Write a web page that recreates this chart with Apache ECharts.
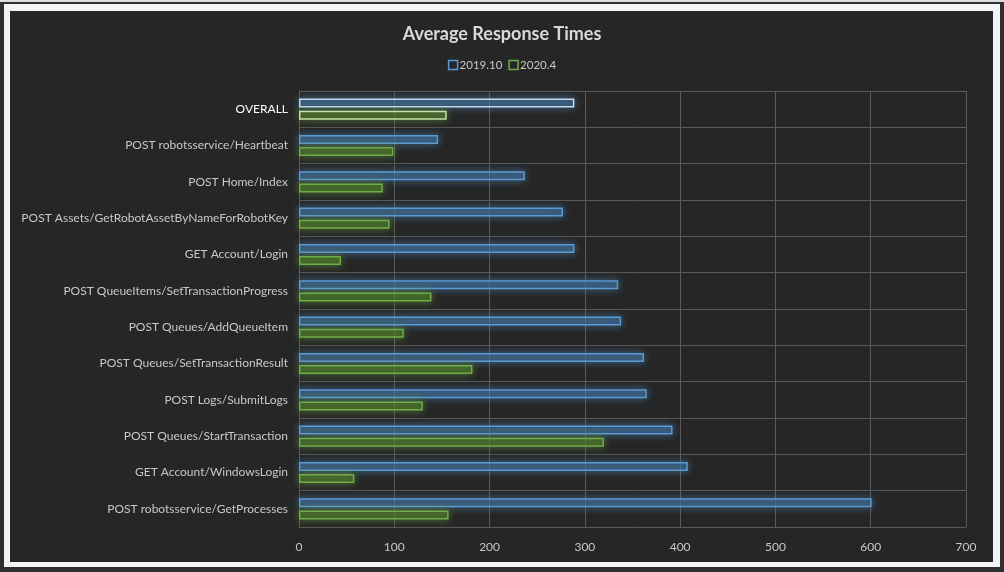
<!DOCTYPE html>
<html>
<head>
<meta charset="utf-8">
<script src="https://cdn.jsdelivr.net/npm/echarts@6/dist/echarts.min.js"></script>
<style>
  html, body { margin: 0; padding: 0; width: 1004px; height: 572px; overflow: hidden; background: #2f2f2f; }
  #topline { position: absolute; left: 0; top: 0; width: 1004px; height: 2px; background: #dcdcdc; }
  #frame { position: absolute; left: 4px; top: 4px; width: 996px; height: 563px; background: #f4f4f4; }
  #inner { position: absolute; left: 10px; top: 11px; width: 983px; height: 551px; background: #262626; }
  #chart { position: absolute; left: 0; top: 0; width: 1004px; height: 572px; }
</style>
</head>
<body>
<div id="topline"></div>
<div id="frame"></div>
<div id="inner"></div>
<div id="chart"></div>
<script>
const categories = [
  'OVERALL',
  'POST robotsservice/Heartbeat',
  'POST Home/Index',
  'POST Assets/GetRobotAssetByNameForRobotKey',
  'GET Account/Login',
  'POST QueueItems/SetTransactionProgress',
  'POST Queues/AddQueueItem',
  'POST Queues/SetTransactionResult',
  'POST Logs/SubmitLogs',
  'POST Queues/StartTransaction',
  'GET Account/WindowsLogin',
  'POST robotsservice/GetProcesses'
];
const seriesNames = ['2019.10', '2020.4'];
const values2019 = [289, 146, 237, 277, 289, 335, 338, 362, 365, 392, 408, 601];
const values2020 = [155, 99, 88, 95, 44, 139, 110, 182, 130, 320, 58, 157];
const xTicks = { min: 0, max: 700, interval: 100 };

const blue = { border: '#5b9bd5', fill: 'rgba(55,95,135,0.5)', glow: 'rgba(91,155,213,0.8)', hi: '#c4dcf3' };
const green = { border: '#70ad47', fill: 'rgba(65,105,35,0.55)', glow: 'rgba(112,173,71,0.8)', hi: '#c8e2ac' };

function makeData(vals, c) {
  return vals.map((v, i) => i === 0 ? { value: v, itemStyle: { borderColor: c.hi } } : v);
}

const chart = echarts.init(document.getElementById('chart'), null, { renderer: 'canvas' });
const font = 'Lato, "Open Sans", sans-serif';
chart.setOption({
  backgroundColor: 'transparent',
  animation: false,
  title: {
    text: 'Average Response Times',
    left: 'center', top: 20,
    textStyle: { color: '#d9d9d9', fontSize: 18, fontWeight: 'bold', fontFamily: font }
  },
  legend: {
    top: 54, left: 'center', icon: 'rect',
    itemWidth: 9, itemHeight: 9, itemGap: 6,
    textStyle: { color: '#c8c8c8', fontSize: 11.5, fontFamily: font, padding: [0, 0, 0, -3] },
    data: [
      { name: seriesNames[0], itemStyle: { color: '#262626', borderColor: blue.border, borderWidth: 1.5, shadowBlur: 0 } },
      { name: seriesNames[1], itemStyle: { color: '#262626', borderColor: green.border, borderWidth: 1.5, shadowBlur: 0 } }
    ]
  },
  grid: { left: 299, right: 38, top: 91, bottom: 45, containLabel: false },
  xAxis: {
    type: 'value', min: xTicks.min, max: xTicks.max, interval: xTicks.interval,
    axisLine: { show: false }, axisTick: { show: false },
    axisLabel: { color: '#c8c8c8', fontSize: 12, fontFamily: font, margin: 14 },
    splitLine: { show: true, lineStyle: { color: '#5a5a5a', width: 1 } }
  },
  yAxis: {
    type: 'category', data: categories, inverse: true,
    axisLine: { show: true, lineStyle: { color: '#5a5a5a' } }, axisTick: { show: false },
    axisLabel: {
      fontSize: 12, fontFamily: font, margin: 11,
      color: (val) => val === 'OVERALL' ? '#ffffff' : '#c8c8c8'
    },
    splitLine: { show: true, lineStyle: { color: '#5a5a5a', width: 1 } }
  },
  series: [
    {
      name: seriesNames[0], type: 'bar', data: makeData(values2019, blue),
      barWidth: 9, barGap: '35%',
      itemStyle: { color: blue.fill, borderColor: blue.border, borderWidth: 1.5, shadowBlur: 8, shadowColor: blue.glow }
    },
    {
      name: seriesNames[1], type: 'bar', data: makeData(values2020, green),
      barWidth: 9, barGap: '35%',
      itemStyle: { color: green.fill, borderColor: green.border, borderWidth: 1.5, shadowBlur: 8, shadowColor: green.glow }
    }
  ]
});
</script>
</body>
</html>
